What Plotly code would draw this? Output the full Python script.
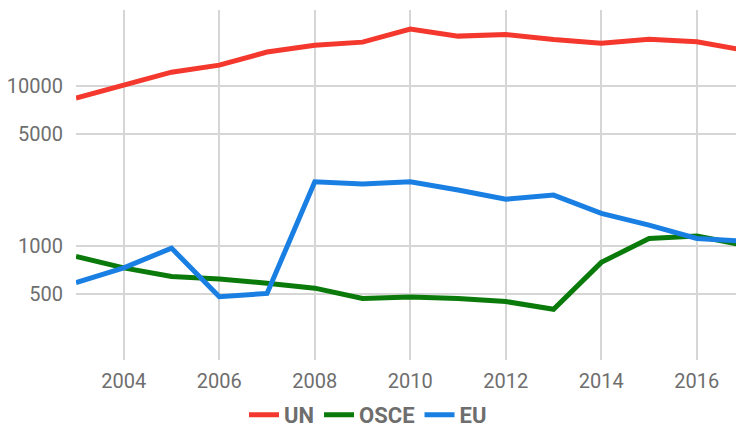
import plotly.graph_objects as go

years = list(range(2003, 2018))
un = [8400, 10200, 12200, 13500, 16300, 18000, 18800, 22700, 20500, 21000, 19500, 18500, 19600, 18900, 16700]
osce = [860, 730, 645, 622, 585, 545, 470, 480, 470, 450, 402, 790, 1115, 1155, 1010]
eu = [590, 730, 970, 482, 505, 2520, 2440, 2520, 2240, 1960, 2080, 1600, 1350, 1115, 1070]

series = [("UN", un, "#f4382e"), ("OSCE", osce, "#0a7a0a"), ("EU", eu, "#1a7fe3")]

x_ticks = [2004, 2006, 2008, 2010, 2012, 2014, 2016]
y_ticks = [500, 1000, 5000, 10000]

fig = go.Figure()
for name, vals, color in series:
    fig.add_trace(go.Scatter(x=years, y=vals, name=name, mode="lines",
                             line=dict(color=color, width=5)))

fig.update_layout(
    width=736, height=429,
    margin=dict(l=76, r=0, t=10, b=69),
    paper_bgcolor="white", plot_bgcolor="white",
    font=dict(family="Roboto", size=20, color="#6e6e6e"),
    showlegend=True,
    legend=dict(orientation="h", xref="container", yref="container",
                x=0.5, xanchor="center", y=0.033, yanchor="middle",
                font=dict(family="Roboto", size=22, color="#6e6e6e", weight="bold"),
                itemwidth=30, traceorder="normal"),
)
fig.update_xaxes(range=[2003, 2016.82], tickvals=x_ticks, ticktext=[str(v) for v in x_ticks],
                 showgrid=True, gridcolor="#d6d6d6", gridwidth=1.5, zeroline=False,
                 showline=False, ticks="", ticklabelstandoff=7)
fig.update_yaxes(type="log", range=[2.2875, 4.475], tickvals=y_ticks,
                 ticktext=[str(v) for v in y_ticks],
                 showgrid=True, gridcolor="#d6d6d6", gridwidth=1.5, zeroline=False,
                 showline=False, ticks="", ticklabelstandoff=12)

fig.write_html("out.html", config={"displayModeBar": False},
               post_script="document.body.style.margin='0';document.body.style.padding='0';")
